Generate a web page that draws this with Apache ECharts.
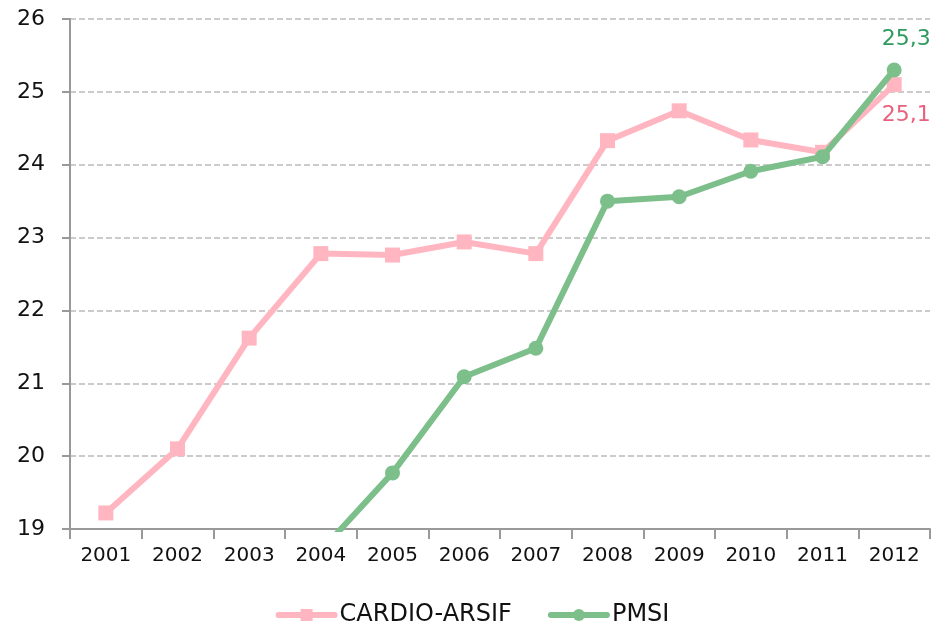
<!DOCTYPE html>
<html>
<head>
<meta charset="utf-8">
<script src="https://cdn.jsdelivr.net/npm/echarts@6/dist/echarts.min.js"></script>
<style>
  html, body { margin: 0; padding: 0; background: #fff; }
  #chart { width: 945px; height: 632px; }
</style>
</head>
<body>
<div id="chart"></div>
<script>
var years = ['2001', '2002', '2003', '2004', '2005', '2006', '2007', '2008', '2009', '2010', '2011', '2012'];
var cardio = [19.22, 20.1, 21.62, 22.78, 22.76, 22.94, 22.78, 24.33, 24.74, 24.34, 24.17, 25.1];
var pmsi = ['-', '-', '-', 18.7, 19.77, 21.09, 21.48, 23.5, 23.56, 23.91, 24.11, 25.3];
var yTicks = [19, 20, 21, 22, 23, 24, 25, 26];

var font = '"DejaVu Sans", sans-serif';

// only the last point of each series carries a label
function lastLabel(arr, pos, color) {
  return arr.map(function (v, i) {
    if (i !== arr.length - 1) return v;
    return {
      value: v,
      label: {
        show: true,
        position: pos,
        distance: 12,
        offset: [12, 0],
        color: color,
        fontSize: 22,
        fontFamily: font,
        formatter: function (p) { return String(p.value).replace('.', ','); }
      }
    };
  });
}

var myChart = echarts.init(document.getElementById('chart'));

var option = {
  animation: false,
  textStyle: { fontFamily: font },
  grid: { left: 70, right: 15, top: 19, bottom: 103 },
  legend: {
    bottom: 0,
    left: 'center',
    itemWidth: 56,
    itemHeight: 15,
    itemGap: 36,
    lineStyle: { width: 6, cap: 'round' },
    textStyle: { fontSize: 24, color: '#111', fontFamily: font },
    data: ['CARDIO-ARSIF', 'PMSI']
  },
  xAxis: {
    type: 'category',
    data: years,
    boundaryGap: true,
    axisLine: { lineStyle: { color: '#999', width: 2 } },
    axisTick: { show: true, length: 10, lineStyle: { color: '#999', width: 2 } },
    axisLabel: { fontSize: 20, color: '#111', margin: 17 }
  },
  yAxis: {
    type: 'value',
    min: yTicks[0],
    max: yTicks[yTicks.length - 1],
    interval: 1,
    axisLine: { show: true, lineStyle: { color: '#999', width: 2 } },
    axisTick: { show: true, length: 8, lineStyle: { color: '#999', width: 2 } },
    axisLabel: { fontSize: 22, color: '#111', margin: 39, align: 'center' },
    splitLine: { lineStyle: { color: '#bbb', type: 'dashed', width: 1.5 } }
  },
  series: [{
    name: 'CARDIO-ARSIF',
    type: 'line',
    data: lastLabel(cardio, 'bottom', '#e8627e'),
    symbol: 'rect',
    symbolSize: 15,
    lineStyle: { color: '#ffb6c1', width: 6 },
    itemStyle: { color: '#ffb6c1' },
    z: 2
  }, {
    name: 'PMSI',
    type: 'line',
    data: lastLabel(pmsi, 'top', '#2e9a5e'),
    symbol: 'circle',
    symbolSize: 15,
    lineStyle: { color: '#7dbf8a', width: 6 },
    itemStyle: { color: '#7dbf8a' },
    z: 3
  }]
};

myChart.setOption(option);
</script>
</body>
</html>
